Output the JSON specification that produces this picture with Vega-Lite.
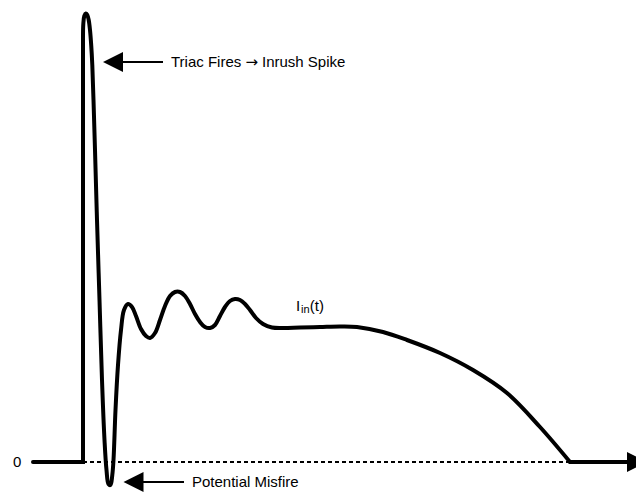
{
  "$schema": "https://vega.github.io/schema/vega-lite/v6.json",
  "width": 636,
  "height": 493,
  "padding": 0,
  "autosize": {"type": "none"},
  "background": "white",
  "config": {"view": {"stroke": null}},
  "datasets": {
    "curve": [
      {"k": 1, "t": 0, "i": 4.22}, {"k": 2, "t": 0.006, "i": 4.38}, {"k": 3, "t": 0.026, "i": 4.46}, {"k": 4, "t": 0.056, "i": 4.485},
      {"k": 5, "t": 0.086, "i": 4.47}, {"k": 6, "t": 0.114, "i": 4.42}, {"k": 7, "t": 0.14, "i": 4.32}, {"k": 8, "t": 0.164, "i": 4.17},
      {"k": 9, "t": 0.186, "i": 3.97}, {"k": 10, "t": 0.21, "i": 3.62}, {"k": 11, "t": 0.24, "i": 3.12}, {"k": 12, "t": 0.28, "i": 2.42},
      {"k": 13, "t": 0.33, "i": 1.62}, {"k": 14, "t": 0.38, "i": 0.82}, {"k": 15, "t": 0.43, "i": 0.22}, {"k": 16, "t": 0.47, "i": -0.08},
      {"k": 17, "t": 0.51, "i": -0.22}, {"k": 18, "t": 0.55, "i": -0.23}, {"k": 19, "t": 0.586, "i": -0.13}, {"k": 20, "t": 0.61, "i": 0.02},
      {"k": 21, "t": 0.65, "i": 0.52}, {"k": 22, "t": 0.70, "i": 0.97}, {"k": 23, "t": 0.76, "i": 1.32}, {"k": 24, "t": 0.82, "i": 1.52},
      {"k": 25, "t": 0.90, "i": 1.58}, {"k": 26, "t": 0.98, "i": 1.55}, {"k": 27, "t": 1.06, "i": 1.46}, {"k": 28, "t": 1.16, "i": 1.33},
      {"k": 29, "t": 1.26, "i": 1.26}, {"k": 30, "t": 1.34, "i": 1.24}, {"k": 31, "t": 1.44, "i": 1.29}, {"k": 32, "t": 1.54, "i": 1.42},
      {"k": 33, "t": 1.64, "i": 1.56}, {"k": 34, "t": 1.74, "i": 1.66}, {"k": 35, "t": 1.84, "i": 1.70}, {"k": 36, "t": 1.94, "i": 1.70},
      {"k": 37, "t": 2.04, "i": 1.66}, {"k": 38, "t": 2.14, "i": 1.58}, {"k": 39, "t": 2.24, "i": 1.48}, {"k": 40, "t": 2.34, "i": 1.40},
      {"k": 41, "t": 2.44, "i": 1.35}, {"k": 42, "t": 2.54, "i": 1.34}, {"k": 43, "t": 2.64, "i": 1.37}, {"k": 44, "t": 2.74, "i": 1.46},
      {"k": 45, "t": 2.84, "i": 1.55}, {"k": 46, "t": 2.94, "i": 1.61}, {"k": 47, "t": 3.04, "i": 1.63}, {"k": 48, "t": 3.14, "i": 1.62},
      {"k": 49, "t": 3.24, "i": 1.58}, {"k": 50, "t": 3.34, "i": 1.52}, {"k": 51, "t": 3.46, "i": 1.44}, {"k": 52, "t": 3.60, "i": 1.38},
      {"k": 53, "t": 3.78, "i": 1.345}, {"k": 54, "t": 4.00, "i": 1.34}, {"k": 55, "t": 4.34, "i": 1.345}, {"k": 56, "t": 4.74, "i": 1.35},
      {"k": 57, "t": 5.14, "i": 1.355}, {"k": 58, "t": 5.48, "i": 1.35}, {"k": 59, "t": 6.00, "i": 1.30}, {"k": 60, "t": 6.48, "i": 1.22},
      {"k": 61, "t": 7.14, "i": 1.09}, {"k": 62, "t": 7.80, "i": 0.92}, {"k": 63, "t": 8.48, "i": 0.69}, {"k": 64, "t": 9.14, "i": 0.35},
      {"k": 65, "t": 9.74, "i": 0}
    ],
    "segments": [
      {"seg": "a", "k": 1, "t": -1.0, "i": 0}, {"seg": "a", "k": 2, "t": 0, "i": 0}, {"seg": "a", "k": 3, "t": 0, "i": 4.22},
      {"seg": "b", "k": 1, "t": 9.74, "i": 0}, {"seg": "b", "k": 2, "t": 10.9, "i": 0}
    ],
    "zero": [{"t": 0, "i": 0}, {"t": 9.74, "i": 0}],
    "arrowlines": [{"t": 0.74, "t2": 1.6, "i": 4.0}, {"t": 1.14, "t2": 2.02, "i": -0.2}],
    "heads": [
      {"dir": "left", "t": 0.60, "i": 4.0},
      {"dir": "left", "t": 1.01, "i": -0.2},
      {"dir": "right", "t": 11.08, "i": 0}
    ],
    "labels": [
      {"label": "Triac Fires", "t": 1.76, "i": 4.0},
      {"label": "Inrush Spike", "t": 3.58, "i": 4.0},
      {"label": "Potential Misfire", "t": 2.18, "i": -0.2},
      {"label": "0", "t": -1.40, "i": 0}
    ],
    "arrowchar": [{"label": "\u2192", "t": 3.25, "i": 4.0}],
    "curvename": [
      {"label": "I", "t": 4.26, "i": 1.515},
      {"label": "(t)", "t": 4.535, "i": 1.515}
    ],
    "sub": [{"label": "in", "t": 4.36, "i": 1.49}]
  },
  "encoding": {
    "x": {"field": "t", "type": "quantitative", "scale": {"domain": [-1.66, 11.06], "nice": false, "zero": false}, "axis": null},
    "y": {"field": "i", "type": "quantitative", "scale": {"domain": [-0.31, 4.62], "nice": false, "zero": false}, "axis": null}
  },
  "layer": [
    {
      "data": {"name": "zero"},
      "mark": {"type": "line", "color": "black", "strokeWidth": 2, "strokeDash": [4, 3]},
      "encoding": {}
    },
    {
      "data": {"name": "segments"},
      "mark": {"type": "line", "color": "black", "strokeWidth": 4, "strokeCap": "round", "strokeJoin": "miter"},
      "encoding": {"detail": {"field": "seg"}, "order": {"field": "k", "type": "quantitative"}}
    },
    {
      "data": {"name": "curve"},
      "mark": {"type": "line", "color": "black", "strokeWidth": 4, "interpolate": "catmull-rom", "strokeCap": "round", "strokeJoin": "round"},
      "encoding": {"order": {"field": "k", "type": "quantitative"}}
    },
    {
      "data": {"name": "arrowlines"},
      "mark": {"type": "rule", "color": "black", "strokeWidth": 2},
      "encoding": {"x2": {"field": "t2"}}
    },
    {
      "data": {"name": "heads"},
      "mark": {"type": "point", "filled": true, "opacity": 1, "color": "black", "size": 400, "clip": true},
      "encoding": {
        "shape": {"field": "dir", "type": "nominal", "scale": {"domain": ["left", "right"], "range": ["M-1,0L1,-1L1,1Z", "M1,0L-1,-1L-1,1Z"]}, "legend": null}
      }
    },
    {
      "data": {"name": "labels"},
      "mark": {"type": "text", "align": "left", "baseline": "middle", "fontSize": 15, "font": "Liberation Sans", "fill": "black"},
      "encoding": {"text": {"field": "label"}}
    },
    {
      "data": {"name": "arrowchar"},
      "mark": {"type": "text", "align": "left", "baseline": "middle", "fontSize": 15, "font": "DejaVu Sans", "fill": "black"},
      "encoding": {"text": {"field": "label"}}
    },
    {
      "data": {"name": "curvename"},
      "mark": {"type": "text", "align": "left", "baseline": "alphabetic", "fontSize": 15, "font": "Liberation Sans", "fill": "black"},
      "encoding": {"text": {"field": "label"}}
    },
    {
      "data": {"name": "sub"},
      "mark": {"type": "text", "align": "left", "baseline": "alphabetic", "fontSize": 11, "font": "Liberation Sans", "fill": "black"},
      "encoding": {"text": {"field": "label"}}
    }
  ]
}
